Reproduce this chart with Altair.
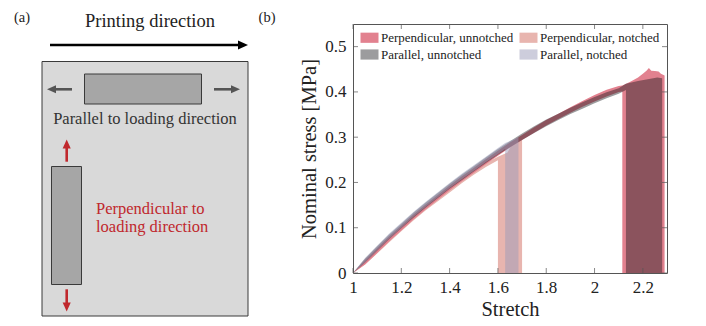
import altair as alt
import pandas as pd

# ---------------- panel (b) data ----------------
SERIES = ["Perpendicular, unnotched", "Parallel, unnotched",
          "Perpendicular, notched", "Parallel, notched"]
COLORS = ["#e2818f", "rgba(20,20,24,0.42)", "#e8b5af", "rgba(155,155,185,0.5)"]

GRID = [1.00, 1.05, 1.10, 1.15, 1.20, 1.25, 1.30, 1.35, 1.40, 1.45, 1.50, 1.55,
        1.60, 1.65, 1.70, 1.75, 1.80, 1.85, 1.90, 1.95, 2.00, 2.05, 2.10]

PU_STRETCH = GRID + [2.115, 2.115, 2.15, 2.18, 2.20, 2.215, 2.225, 2.235, 2.25, 2.265,
                     2.275, 2.29, 2.29]
PU_UPPER = [0, .029, .055, .081, .105, .129, .151, .172, .193, .213, .232, .251, .270,
            .288, .305, .322, .338, .352, .366, .380, .393, .405, .413,
            .414, .414, .423, .432, .440, .447, .453, .447, .446, .445, .440, .436, 0]
PU_LOWER = [0, .019, .044, .070, .094, .118, .140, .161, .182, .202, .221, .240, .259,
            .277, .294, .310, .326, .340, .354, .367, .379, .390, .400,
            .401, 0, 0, 0, 0, 0, 0, 0, 0, 0, 0, 0, 0]

PN_STRETCH = GRID[:13] + [1.60, 1.64, 1.66, 1.70, 1.70]
PN_UPPER = [0, .025, .051, .077, .101, .125, .147, .168, .189, .208, .226, .243, .257,
            .257, .266, .287, .296, 0]
PN_LOWER = [0, .019, .043, .068, .092, .116, .138, .158, .178, .198, .217, .234, .249,
            0, 0, 0, 0, 0]

PA_STRETCH = GRID + [2.13, 2.13, 2.18, 2.22, 2.26, 2.28, 2.28]
PA_UPPER = [0, .032, .059, .085, .109, .133, .155, .176, .197, .217, .236, .255, .274,
            .291, .308, .324, .339, .352, .365, .377, .389, .399, .408,
            .418, .418, .424, .428, .432, .430, 0]
PA_LOWER = [0, .023, .049, .075, .099, .122, .144, .165, .186, .205, .224, .243, .261,
            .278, .294, .309, .324, .338, .351, .363, .375, .386, .396,
            .404, 0, 0, 0, 0, 0, 0, 0]

PAN_STRETCH = GRID[:13] + [1.63, 1.63, 1.685, 1.685]
PAN_UPPER = [0, .033, .060, .087, .111, .135, .157, .178, .199, .219, .238, .257, .276,
             .287, .287, .300, 0]
PAN_LOWER = [0, .024, .050, .076, .100, .124, .146, .167, .188, .207, .226, .245, .263,
             .274, 0, 0, 0]

X_TICKS = [1, 1.2, 1.4, 1.6, 1.8, 2, 2.2]
Y_TICKS = [0, 0.1, 0.2, 0.3, 0.4, 0.5]
X_DOMAIN = [1, 2.3]
Y_DOMAIN = [0, 0.55]

# ---------------- panel (a) schematic (diagram units = page pixels) ----------------
RECT_X0 = [42, 84.5, 51.5]
RECT_X1 = [248, 201.5, 81.5]
RECT_Y0 = [61.5, 74, 166.5]
RECT_Y1 = [316, 104, 284.5]
RECT_FILL = ["#d9d9d9", "#a6a6a6", "#a6a6a6"]

SHAFT_X0 = [50, 55, 214, 66.7, 66.7]
SHAFT_X1 = [240, 72, 233, 66.7, 66.7]
SHAFT_Y0 = [45, 89.3, 89.3, 147, 289.3]
SHAFT_Y1 = [45, 89.3, 89.3, 161.7, 304]
SHAFT_COL = ["#000000", "#555555", "#555555", "#c0282d", "#c0282d"]

HEAD_X = [243, 51.5, 235.5, 66.7, 66.7]
HEAD_Y = [45, 89.3, 89.3, 144, 307]
HEAD_ANGLE = [0, 180, 0, 270, 90]
HEAD_SIZE = [100, 81, 81, 81, 81]

TXT = ["(a)", "Printing direction", "(b)", "Parallel to loading direction"]
TXT_X = [22, 150, 267, 145]
TXT_Y = [22, 27, 22, 124]
TXT_SIZE = [14.5, 18.5, 14.5, 16.5]
TXT_COL = ["#222222", "#222222", "#222222", "#333333"]

RED_TXT = ["Perpendicular to", "loading direction"]
RED_X = [96, 96]
RED_Y = [214, 232]

FONT = "Liberation Serif"
W, H = 314, 249
PX0, PY0 = 353, 24   # page position of the plot-area corner


def to_x(f):
    return f"{X_DOMAIN[0]} + (datum.{f} - {PX0}) * {(X_DOMAIN[1] - X_DOMAIN[0]) / W}"


def to_y(f):
    return f"{Y_DOMAIN[0]} + ({PY0 + H} - datum.{f}) * {(Y_DOMAIN[1] - Y_DOMAIN[0]) / H}"


# ---------------- build tables ----------------
rows = []
for name, st, up, lo in [("Perpendicular, unnotched", PU_STRETCH, PU_UPPER, PU_LOWER),
                         ("Perpendicular, notched", PN_STRETCH, PN_UPPER, PN_LOWER),
                         ("Parallel, unnotched", PA_STRETCH, PA_UPPER, PA_LOWER),
                         ("Parallel, notched", PAN_STRETCH, PAN_UPPER, PAN_LOWER)]:
    for i, (s, u, l) in enumerate(zip(st, up, lo)):
        rows.append({"series": name, "i": i, "stretch": s, "upper": u, "lower": l})
bands = pd.DataFrame(rows)

xscale = alt.Scale(domain=X_DOMAIN, nice=False, zero=False)
yscale = alt.Scale(domain=Y_DOMAIN, nice=False, zero=False)
cscale = alt.Scale(domain=SERIES, range=COLORS)

xaxis = alt.Axis(orient="bottom", values=X_TICKS, format="~g", title="Stretch",
                 ticks=False, domain=False, grid=False, labelFlush=False,
                 labelFont=FONT, labelFontSize=17, labelColor="#222", labelPadding=6,
                 titleFont=FONT, titleFontSize=20.5, titleFontWeight="normal",
                 titleColor="#222", titlePadding=4)
yaxis = alt.Axis(orient="left", values=Y_TICKS, format="~g", title="Nominal stress [MPa]",
                 ticks=False, domain=False, grid=False, labelFlush=False,
                 labelFont=FONT, labelFontSize=17, labelColor="#222", labelPadding=7,
                 titleFont=FONT, titleFontSize=20.5, titleFontWeight="normal",
                 titleColor="#222", titlePadding=5)

SWATCH = "M-1.5,-0.85 H1.5 V0.85 H-1.5 Z"
legend = alt.Legend(title=None, orient="none", legendX=10, legendY=7, columns=2,
                    symbolType=SWATCH, symbolSize=144, symbolStrokeWidth=0,
                    symbolOpacity=1, labelFont=FONT, labelFontSize=13,
                    labelColor="#222", labelOffset=5, rowPadding=3,
                    columnPadding=5, padding=0, labelLimit=0)


def band(name):
    return alt.Chart(bands).transform_filter(alt.datum.series == name).mark_area(
        interpolate="linear", opacity=1, strokeWidth=0
    ).encode(
        x=alt.X("stretch:Q", scale=xscale, axis=xaxis),
        y=alt.Y("upper:Q", scale=yscale, axis=yaxis),
        y2="lower:Q",
        color=alt.Color("series:N", scale=cscale, legend=legend),
    )


xt = pd.DataFrame({"t": X_TICKS})
yt = pd.DataFrame({"t": Y_TICKS})
TICKC = "#555555"
tick_bottom = alt.Chart(xt).mark_tick(orient="vertical", size=5, thickness=1, color=TICKC, yOffset=-2.5).encode(
    x=alt.X("t:Q", scale=xscale, axis=xaxis), y=alt.YDatum(Y_DOMAIN[0]))
tick_top = alt.Chart(xt).mark_tick(orient="vertical", size=5, thickness=1, color=TICKC, yOffset=2.5).encode(
    x=alt.X("t:Q", scale=xscale, axis=xaxis), y=alt.YDatum(Y_DOMAIN[1]))
tick_left = alt.Chart(yt).mark_tick(orient="horizontal", size=5, thickness=1, color=TICKC, xOffset=2.5).encode(
    y=alt.Y("t:Q", scale=yscale, axis=yaxis), x=alt.XDatum(X_DOMAIN[0]))
tick_right = alt.Chart(yt).mark_tick(orient="horizontal", size=5, thickness=1, color=TICKC, xOffset=-2.5).encode(
    y=alt.Y("t:Q", scale=yscale, axis=yaxis), x=alt.XDatum(X_DOMAIN[1]))

# ---------------- panel (a), mapped into the same scales ----------------
rects = pd.DataFrame({"x0": RECT_X0, "x1": RECT_X1, "y0": RECT_Y0, "y1": RECT_Y1, "fill": RECT_FILL})
shafts = pd.DataFrame({"x0": SHAFT_X0, "x1": SHAFT_X1, "y0": SHAFT_Y0, "y1": SHAFT_Y1, "col": SHAFT_COL})
heads = pd.DataFrame({"x": HEAD_X, "y": HEAD_Y, "ang": HEAD_ANGLE, "sz": HEAD_SIZE, "col": SHAFT_COL})
texts = pd.DataFrame({"t": TXT, "x": TXT_X, "y": TXT_Y, "fs": TXT_SIZE, "col": TXT_COL})
reds = pd.DataFrame({"t": RED_TXT, "x": RED_X, "y": RED_Y})

a_rect = alt.Chart(rects).transform_calculate(
    ux0=to_x("x0"), ux1=to_x("x1"), uy0=to_y("y0"), uy1=to_y("y1")
).mark_rect(stroke="#3a3a3a", strokeWidth=1).encode(
    x=alt.X("ux0:Q", scale=xscale, axis=xaxis), x2="ux1:Q",
    y=alt.Y("uy0:Q", scale=yscale, axis=yaxis), y2="uy1:Q",
    fill=alt.Fill("fill:N", scale=None))
a_shaft = alt.Chart(shafts).transform_calculate(
    ux0=to_x("x0"), ux1=to_x("x1"), uy0=to_y("y0"), uy1=to_y("y1")
).mark_rule(strokeWidth=2.6).encode(
    x=alt.X("ux0:Q", scale=xscale, axis=xaxis), x2="ux1:Q",
    y=alt.Y("uy0:Q", scale=yscale, axis=yaxis), y2="uy1:Q",
    stroke=alt.Stroke("col:N", scale=None))
a_head = alt.Chart(heads).transform_calculate(
    ux=to_x("x"), uy=to_y("y")
).mark_point(shape="M-1,-0.9 L1,0 L-1,0.9 Z", filled=True, opacity=1, strokeWidth=0).encode(
    x=alt.X("ux:Q", scale=xscale, axis=xaxis), y=alt.Y("uy:Q", scale=yscale, axis=yaxis),
    angle=alt.Angle("ang:Q", scale=None), size=alt.Size("sz:Q", scale=None),
    fill=alt.Fill("col:N", scale=None))
a_text = alt.Chart(texts).transform_calculate(
    ux=to_x("x"), uy=to_y("y")
).mark_text(font=FONT, align="center", baseline="alphabetic").encode(
    x=alt.X("ux:Q", scale=xscale, axis=xaxis), y=alt.Y("uy:Q", scale=yscale, axis=yaxis),
    text="t:N", size=alt.Size("fs:Q", scale=None), fill=alt.Fill("col:N", scale=None))
a_red = alt.Chart(reds).transform_calculate(
    ux=to_x("x"), uy=to_y("y")
).mark_text(font=FONT, align="left", baseline="alphabetic", fontSize=16.5, fill="#c0282d").encode(
    x=alt.X("ux:Q", scale=xscale, axis=xaxis), y=alt.Y("uy:Q", scale=yscale, axis=yaxis), text="t:N")

chart = alt.layer(
    a_rect, a_shaft, a_head, a_text, a_red,
    band("Perpendicular, notched"), band("Perpendicular, unnotched"),
    band("Parallel, unnotched"), band("Parallel, notched"),
    tick_bottom, tick_top, tick_left, tick_right,
).properties(
    width=W, height=H, autosize=alt.AutoSizeParams(type="none"),
    padding={"left": 345, "top": 16, "right": 31, "bottom": 45},
).configure_view(stroke="#555555", strokeWidth=1)

chart.save("out.html", embed_options={"renderer": "svg", "actions": False})
